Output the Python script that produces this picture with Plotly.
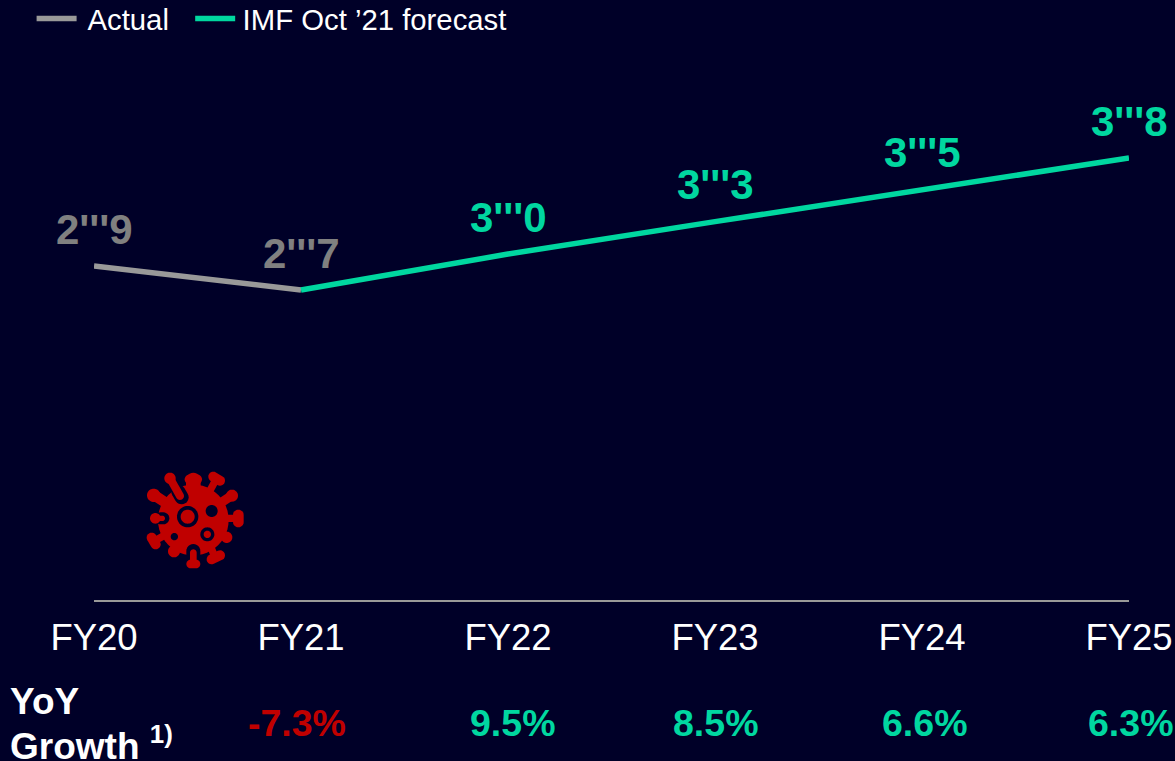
import math
import plotly.graph_objects as go

# ---- data ----
categories = ["FY20", "FY21", "FY22", "FY23", "FY24", "FY25"]
actual_values = [2.9, 2.7]
forecast_values = [2.7, 3.0, 3.27, 3.54, 3.8]
actual_labels = ["2'''9", "2'''7"]
forecast_labels = ["3'''0", "3'''3", "3'''5", "3'''8"]
growth_labels = ["-7.3%", "9.5%", "8.5%", "6.6%", "6.3%"]
growth_nudges = [-4, 4, 0, 2, 1]

# ---- style ----
BG = "#000028"
TEAL = "#00D7A0"
GRAY = "#999999"
LABEL_GRAY = "#808080"
RED = "#C00000"
FONT = "Liberation Sans, Arial, sans-serif"
W, H = 1175, 761
L, R, B = 94, 46, 161
PW, PH = W - L - R, H - B


def paper_x(x):
    return (x - L) / PW


def paper_y(y):
    return (PH - y) / PH


fig = go.Figure()
fig.add_trace(go.Scatter(
    x=categories[:2], y=actual_values, name="\u2009Actual\u00a0\u00a0", mode="lines",
    line=dict(color=GRAY, width=5.5), cliponaxis=False, hoverinfo="skip"))
fig.add_trace(go.Scatter(
    x=categories[1:], y=forecast_values, name="\u200aIMF Oct ’21 forecast", mode="lines",
    line=dict(color=TEAL, width=5.5), cliponaxis=False, hoverinfo="skip"))

annotations = []
for xs, ys, labs, col in ((categories[:2], actual_values, actual_labels, LABEL_GRAY),
                          (categories[2:], forecast_values[1:], forecast_labels, TEAL)):
    for x, y, lab in zip(xs, ys, labs):
        annotations.append(dict(
            x=x, y=y, xref="x", yref="y", yanchor="middle", yshift=37, showarrow=False,
            text=f"<b>{lab}</b>", font=dict(family=FONT, size=42, color=col)))
for cat, lab, nudge in zip(categories[1:], growth_labels, growth_nudges):
    annotations.append(dict(
        x=cat, xref="x", y=paper_y(723), yref="paper", yanchor="middle", showarrow=False,
        xshift=nudge, text=f"<b>{lab}</b>",
        font=dict(family=FONT, size=37.5, color=RED if lab.startswith("-") else TEAL)))
annotations.append(dict(
    x=paper_x(8), xref="paper", xanchor="left", align="left",
    y=paper_y(701), yref="paper", yanchor="middle", showarrow=False,
    text="<b>YoY</b>", font=dict(family=FONT, size=37, color="white")))
annotations.append(dict(
    x=paper_x(8), xref="paper", xanchor="left", align="left",
    y=paper_y(743), yref="paper", yanchor="middle", showarrow=False,
    text="<b>Growth <sup>1)</sup></b>", font=dict(family=FONT, size=37, color="white")))


# ---- decorative virus icon, defined in page pixels ----
def zoomed(zx, zy):
    return 120 + zx / 3, 450 + zy / 3


def polygon(points):
    parts = []
    for i, (x, y) in enumerate(points):
        parts.append(("M" if i == 0 else "L") + f"{paper_x(x):.5f},{paper_y(y):.5f}")
    return " ".join(parts) + " Z"


def circle(zx, zy, zr):
    cx, cy = zoomed(zx, zy)
    r = zr / 3
    return polygon([(cx + r * math.cos(t * math.pi / 24), cy + r * math.sin(t * math.pi / 24))
                    for t in range(48)])


def capsule(zx0, zy0, zx1, zy1, zr):
    x0, y0 = zoomed(zx0, zy0)
    x1, y1 = zoomed(zx1, zy1)
    r = zr / 3
    a = math.atan2(y1 - y0, x1 - x0)
    pts = []
    for i in range(13):
        t = a + math.pi / 2 - i * math.pi / 12
        pts.append((x1 + r * math.cos(t), y1 + r * math.sin(t)))
    for i in range(13):
        t = a - math.pi / 2 - i * math.pi / 12
        pts.append((x0 + r * math.cos(t), y0 + r * math.sin(t)))
    return polygon(pts)


body = [circle(220, 210, 106)]
spikes = [
    capsule(220, 90, 220, 120, 22), capsule(208, 88, 232, 88, 14),
    capsule(268, 125, 290, 85, 11), capsule(280, 80, 300, 92, 15),
    capsule(300, 160, 335, 137, 14), circle(336, 137, 18),
    capsule(320, 205, 355, 205, 11), capsule(355, 195, 355, 216, 16),
    capsule(295, 245, 320, 262, 14), circle(320, 262, 17),
    capsule(272, 290, 285, 322, 11), capsule(275, 328, 300, 316, 15),
    capsule(170, 285, 162, 303, 14), circle(162, 304, 18),
    capsule(135, 255, 100, 275, 11), capsule(95, 263, 107, 283, 15),
    capsule(140, 160, 102, 135, 16), circle(101, 136, 20),
]
dark_cuts = [
    capsule(175, 125, 185, 142, 21), capsule(220, 303, 220, 312, 21),
    capsule(122, 205, 130, 205, 18), circle(203, 200, 32), circle(275, 183, 18),
    circle(262, 253, 21), circle(163, 260, 11),
]
top_red = [
    capsule(150, 85, 180, 138, 12), circle(150, 85, 17),
    capsule(220, 308, 220, 340, 10), capsule(212, 342, 228, 342, 13),
    capsule(105, 205, 127, 205, 8), circle(106, 205, 16),
    circle(203, 200, 21), circle(262, 253, 11),
]
shapes = []
for paths, col in ((body + spikes, RED), (dark_cuts, BG), (top_red, RED)):
    for d in paths:
        shapes.append(dict(type="path", xref="paper", yref="paper", path=d,
                           fillcolor=col, line=dict(width=0), layer="above"))

fig.update_layout(
    width=W, height=H, paper_bgcolor=BG, plot_bgcolor=BG,
    margin=dict(l=L, r=R, t=0, b=B, autoexpand=False),
    font=dict(family=FONT, color="white"),
    xaxis=dict(type="category", categoryorder="array", categoryarray=categories,
               range=[0, 5], showgrid=False, zeroline=False, showline=True, linecolor="#999999",
               linewidth=2, ticks="", tickfont=dict(family=FONT, size=36.5, color="white"),
               ticklabeloverflow="allow", ticklabelstandoff=4, automargin=False),
    yaxis=dict(range=[0.117, 5.117], visible=False, showgrid=False, zeroline=False),
    legend=dict(orientation="h", x=paper_x(31.6), xanchor="left", y=paper_y(-7), yanchor="top",
                bgcolor="rgba(0,0,0,0)", font=dict(family=FONT, size=29.3, color="white"),
                itemwidth=40, tracegroupgap=0),
    annotations=annotations, shapes=shapes, showlegend=True,
)
fig.write_html("out.html", config={"displayModeBar": False},
               post_script="document.body.style.margin='0';document.documentElement.style.background='#000028';")
